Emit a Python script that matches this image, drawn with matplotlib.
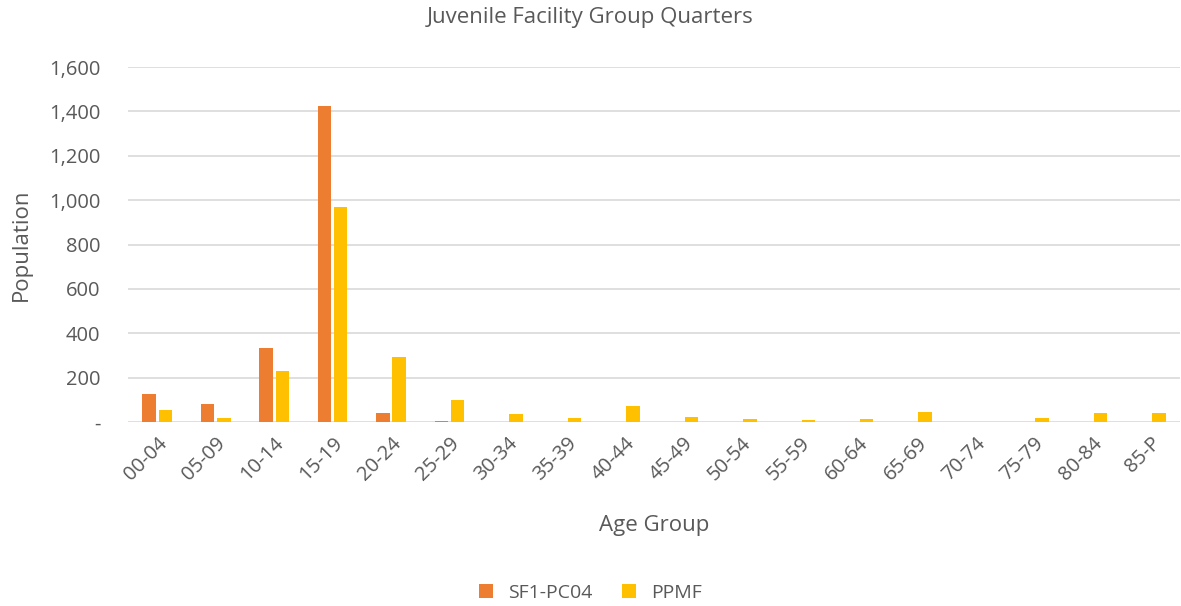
import matplotlib.pyplot as plt
import numpy as np

# Age groups and population counts
ages = ['00-04', '05-09', '10-14', '15-19', '20-24', '25-29', '30-34', '35-39', '40-44',
        '45-49', '50-54', '55-59', '60-64', '65-69', '70-74', '75-79', '80-84', '85-P']
sf1 = [128, 80, 334, 1423, 42, 6, 0, 0, 0, 0, 0, 0, 0, 0, 0, 0, 0, 0]
ppmf = [53, 17, 230, 970, 292, 98, 35, 17, 71, 24, 13, 8, 13, 45, 0, 17, 39, 42]

plt.rcParams['font.family'] = ['Open Sans', 'DejaVu Sans']
txt = '#595959'

fig = plt.figure(figsize=(11.81, 6.06), dpi=100)
ax = fig.add_axes([128 / 1181, 1 - 422 / 606, 1052 / 1181, 355 / 606])

x = np.arange(len(ages))
w = 0.23
ax.bar(x - w / 2 - 0.025, sf1, w, color='#ED7D31', label='SF1-PC04', zorder=3)
ax.bar(x + w / 2 + 0.025, ppmf, w, color='#FFC000', label='PPMF', zorder=3)

ax.set_xlim(-0.5, len(ages) - 0.5)
ax.set_ylim(0, 1600)
ax.set_yticks(np.arange(0, 1601, 200))
ax.set_yticklabels(['-'] + [f'{v:,}' for v in range(200, 1601, 200)])
ax.set_xticks(x)
ax.set_xticklabels(ages, rotation=45, ha='right', rotation_mode='anchor')
ax.grid(axis='y', color='#D9D9D9', linewidth=1.2, zorder=0)
for s in ax.spines.values():
    s.set_visible(False)
ax.tick_params(axis='both', length=0, labelsize=14.5, colors=txt)
ax.tick_params(axis='y', pad=20)
ax.tick_params(axis='x', pad=8)

ax.set_xlabel('Age Group', fontsize=16, color=txt, labelpad=22)
ax.set_ylabel('Population', fontsize=16, color=txt, labelpad=12)
fig.text(0.5, 1 - 18 / 606, 'Juvenile Facility Group Quarters', ha='center', va='center',
         fontsize=16, color=txt)
fig.legend(loc='center', bbox_to_anchor=(0.5, 1 - 593 / 606), ncol=2, frameon=False,
           fontsize=14, labelcolor=txt, handlelength=0.7, handleheight=0.7, columnspacing=1.5)

fig.savefig('out.png', dpi=100)
